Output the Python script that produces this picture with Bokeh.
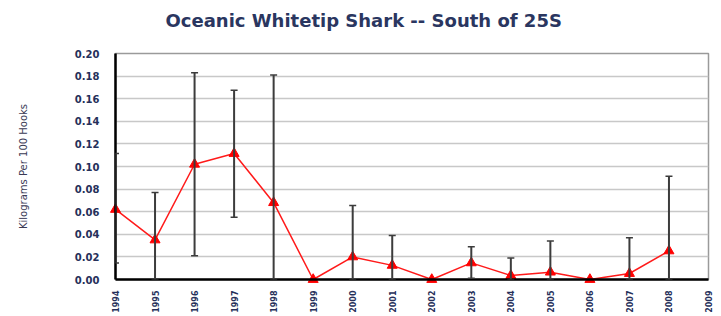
import math
from bokeh.plotting import figure
from bokeh.models import (ColumnDataSource, Whisker, TeeHead, FixedTicker, Range1d,
                          NumeralTickFormatter, Title)
from bokeh.embed import file_html
from bokeh.resources import INLINE

# ---------------- data ----------------
title_text = "Oceanic Whitetip Shark -- South of 25S"
y_label = "Kilograms Per 100 Hooks"
years = [1994, 1995, 1996, 1997, 1998, 1999, 2000, 2001, 2002, 2003, 2004, 2005, 2006, 2007, 2008]
cpue = [0.062, 0.035, 0.102, 0.1115, 0.068, 0.000, 0.020, 0.0125, 0.000, 0.0147, 0.0035, 0.0065, 0.000, 0.0053, 0.0253]
upper = [0.1115, 0.077, 0.183, 0.1675, 0.181, 0.000, 0.0655, 0.039, 0.000, 0.029, 0.019, 0.034, 0.000, 0.037, 0.0914]
lower = [0.0147, 0.000, 0.021, 0.055, 0.000, 0.000, 0.000, 0.000, 0.000, 0.001, 0.000, 0.000, 0.000, 0.000, 0.000]
year_ticks = list(range(1994, 2010))
y_ticks = [0.00, 0.02, 0.04, 0.06, 0.08, 0.10, 0.12, 0.14, 0.16, 0.18, 0.20]

FONT = "DejaVu Sans"

p = figure(width=721, height=316, output_backend="svg", toolbar_location=None,
           x_range=Range1d(year_ticks[0], year_ticks[-1]),
           y_range=Range1d(y_ticks[0], y_ticks[-1]),
           min_border_left=115, min_border_right=13, min_border_top=53, min_border_bottom=37,
           background_fill_color="white", border_fill_color="white")

# title
p.title.text = title_text
p.title.text_font = FONT
p.title.text_font_style = "bold"
p.title.text_font_size = "18px"
p.title.text_color = "#2a3660"
p.title.align = "left"
p.title.vertical_align = "top"
p.title.offset = 50
p.title.standoff = 14

# blank spacer between the title and the plot frame
spacer = Title(text=" ", text_font=FONT, text_font_size="10px", standoff=1)
p.add_layout(spacer, "above")

p.outline_line_color = "#9a9a9a"
p.outline_line_width = 1.5

# grid
p.xgrid.grid_line_color = None
p.ygrid.ticker = FixedTicker(ticks=y_ticks)
p.ygrid.grid_line_color = "#c8c8c8"
p.ygrid.grid_line_width = 1.5

# axes
ya = p.yaxis[0]
ya.ticker = FixedTicker(ticks=y_ticks)
ya.formatter = NumeralTickFormatter(format="0.00")
ya.axis_line_color = "black"
ya.axis_line_width = 2.5
ya.major_tick_out = 0
ya.major_tick_in = 0
ya.minor_tick_out = 0
ya.minor_tick_in = 0
ya.major_label_standoff = 16
ya.major_label_text_font = FONT
ya.major_label_text_font_style = "bold"
ya.major_label_text_font_size = "10px"
ya.major_label_text_color = "#26305a"
ya.axis_label = y_label
ya.axis_label_text_font = FONT
ya.axis_label_text_font_style = "normal"
ya.axis_label_text_font_size = "10px"
ya.axis_label_text_color = "#3a3a55"
ya.axis_label_standoff = 43

xa = p.xaxis[0]
xa.ticker = FixedTicker(ticks=year_ticks)
xa.axis_line_color = "black"
xa.axis_line_width = 2.5
xa.major_tick_out = 0
xa.major_tick_in = 0
xa.minor_tick_out = 0
xa.minor_tick_in = 0
xa.major_label_orientation = math.pi / 2
xa.major_label_standoff = 11
xa.major_label_text_font = FONT
xa.major_label_text_font_style = "bold"
xa.major_label_text_font_size = "8px"
xa.major_label_text_color = "#26305a"

# error bars (only where there is a spread)
eb_years = [y for y, lo, up in zip(years, lower, upper) if up > lo]
eb_lower = [lo for y, lo, up in zip(years, lower, upper) if up > lo]
eb_upper = [up for y, lo, up in zip(years, lower, upper) if up > lo]
eb_src = ColumnDataSource(data=dict(x=eb_years, lower=eb_lower, upper=eb_upper))
w = Whisker(source=eb_src, base="x", lower="lower", upper="upper",
            line_color="#3c3c3c", line_width=2,
            upper_head=TeeHead(size=7, line_color="#3c3c3c", line_width=1.5),
            lower_head=TeeHead(size=7, line_color="#3c3c3c", line_width=1.5),
            level="guide")
p.add_layout(w)

src = ColumnDataSource(data=dict(x=years, y=cpue))
ln = p.line("x", "y", source=src, line_color="#ff1a1a", line_width=1.5, level="guide")
sc = p.scatter("x", "y", source=src, marker="triangle", size=10,
               fill_color="#ff0000", line_color="#ff0000", level="guide")

open("out.html", "w").write(file_html(p, INLINE))
